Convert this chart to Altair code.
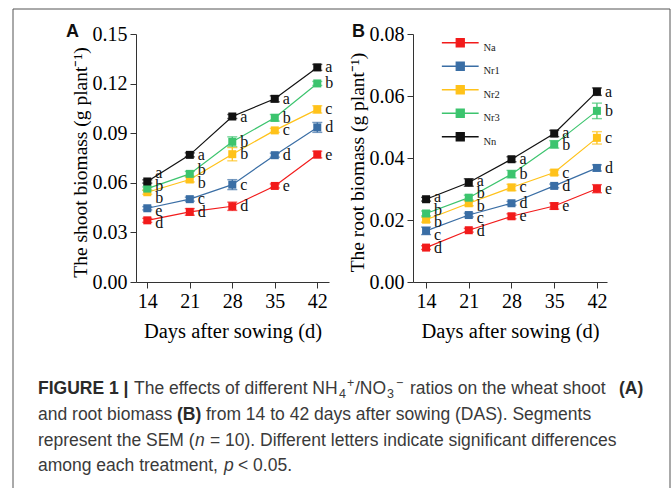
import altair as alt
import pandas as pd

# ---------------- data ----------------
days = [14, 21, 28, 35, 42]
series = ["Na", "Nr1", "Nr2", "Nr3", "Nn"]
colors = ["#F21B1B", "#3A6EA5", "#FFC21A", "#3CC46E", "#111111"]

shoot = {
    "Na":  [0.0373, 0.0424, 0.0458, 0.0581, 0.0771],
    "Nr1": [0.0446, 0.0501, 0.0589, 0.0767, 0.0935],
    "Nr2": [0.0543, 0.0620, 0.0773, 0.0917, 0.1044],
    "Nr3": [0.0565, 0.0654, 0.0848, 0.0993, 0.1201],
    "Nn":  [0.0608, 0.0769, 0.1001, 0.1108, 0.1298],
}
shoot_sem = {
    "Na":  [0.0012, 0.0020, 0.0025, 0.0012, 0.0020],
    "Nr1": [0.0010, 0.0012, 0.0030, 0.0012, 0.0030],
    "Nr2": [0.0012, 0.0015, 0.0040, 0.0012, 0.0022],
    "Nr3": [0.0010, 0.0015, 0.0030, 0.0020, 0.0012],
    "Nn":  [0.0010, 0.0012, 0.0012, 0.0018, 0.0018],
}
shoot_letters = {
    "Na":  ["d", "d", "d", "e", "e"],
    "Nr1": ["e", "c", "c", "d", "d"],
    "Nr2": ["b", "b", "b", "c", "c"],
    "Nr3": ["b", "b", "b", "b", "b"],
    "Nn":  ["a", "a", "a", "a", "a"],
}
root = {
    "Na":  [0.0111, 0.0167, 0.0212, 0.0245, 0.0301],
    "Nr1": [0.0165, 0.0216, 0.0254, 0.0310, 0.0368],
    "Nr2": [0.0201, 0.0254, 0.0305, 0.0353, 0.0465],
    "Nr3": [0.0221, 0.0272, 0.0348, 0.0444, 0.0552],
    "Nn":  [0.0267, 0.0321, 0.0396, 0.0479, 0.0614],
}
root_sem = {
    "Na":  [0.0006, 0.0006, 0.0008, 0.0010, 0.0013],
    "Nr1": [0.0012, 0.0006, 0.0006, 0.0006, 0.0010],
    "Nr2": [0.0008, 0.0008, 0.0010, 0.0008, 0.0020],
    "Nr3": [0.0008, 0.0008, 0.0012, 0.0012, 0.0025],
    "Nn":  [0.0006, 0.0012, 0.0008, 0.0010, 0.0012],
}
root_letters = {
    "Na":  ["d", "d", "e", "e", "e"],
    "Nr1": ["c", "c", "d", "d", "d"],
    "Nr2": ["b", "b", "c", "c", "c"],
    "Nr3": ["b", "b", "b", "b", "b"],
    "Nn":  ["a", "a", "a", "a", "a"],
}

SERIF = "Liberation Serif"
SANS = "Liberation Sans"


def spread(vals, sep):
    pos = list(vals)
    for _ in range(200):
        order = sorted(range(len(pos)), key=lambda i: pos[i])
        moved = False
        for a, b in zip(order, order[1:]):
            d = pos[b] - pos[a]
            if d < sep - 1e-12:
                s = (sep - d) / 2
                pos[a] -= s
                pos[b] += s
                moved = True
        if not moved:
            break
    return pos


def frame(vals, sems, letters, sep):
    rows = []
    for s in series:
        for i, d in enumerate(days):
            rows.append({"day": d, "series": s, "value": vals[s][i],
                         "lo": vals[s][i] - sems[s][i], "hi": vals[s][i] + sems[s][i],
                         "letter": letters[s][i]})
    df = pd.DataFrame(rows)
    df["lab"] = df["value"]
    for d in days:
        m = df["day"] == d
        df.loc[m, "lab"] = spread(df.loc[m, "value"].tolist(), sep)
    return df


dfA = frame(shoot, shoot_sem, shoot_letters, 0.15 / 248 * 12.5)
dfB = frame(root, root_sem, root_letters, 0.08 / 248 * 12.5)

legend_path = "M-4.6,0L4.6,0M-1,-1L1,-1L1,1L-1,1Z"


def panel(df, xdom, ymax, ystep, ytitle, show_legend):
    if show_legend:
        leg = alt.Legend(orient="none", legendX=42, legendY=3.5, title=None,
                         symbolType=legend_path, symbolSize=64, symbolStrokeWidth=1.3,
                         labelFont=SERIF, labelFontSize=10.5, labelColor="#222",
                         labelBaseline="top", labelOffset=18, rowPadding=5.5,
                         padding=0, symbolOpacity=1)
    else:
        leg = None
    cscale = alt.Scale(domain=series, range=colors)
    x = alt.X("day:Q", scale=alt.Scale(domain=xdom, nice=False, zero=False),
              axis=alt.Axis(values=days, title="Days after sowing (d)", format="d"))
    yvals = [round(i * ystep, 4) for i in range(int(round(ymax / ystep)) + 1)]
    yscale = alt.Scale(domain=[0, ymax], nice=False)
    y = alt.Y("value:Q", scale=yscale,
              axis=alt.Axis(values=yvals, format=".2f", title=ytitle, titleY=128))
    stroke = alt.Stroke("series:N", scale=cscale, sort=series, legend=leg)
    fill = alt.Fill("series:N", scale=cscale, sort=series, legend=leg)
    base = alt.Chart(df)
    line = base.mark_line(strokeWidth=1.2).encode(x=x, y=y, stroke=stroke, order="day:Q")
    err = base.mark_rule(strokeWidth=1.3).encode(
        x="day:Q", y=alt.Y("lo:Q", scale=yscale), y2="hi:Q",
        stroke=alt.Stroke("series:N", scale=cscale, legend=None))
    cap_lo = base.mark_tick(orient="horizontal", size=10, thickness=1.4).encode(
        x="day:Q", y=alt.Y("lo:Q", scale=yscale),
        color=alt.Color("series:N", scale=cscale, legend=None))
    cap_hi = base.mark_tick(orient="horizontal", size=10, thickness=1.4).encode(
        x="day:Q", y=alt.Y("hi:Q", scale=yscale),
        color=alt.Color("series:N", scale=cscale, legend=None))
    pts = base.mark_square(size=64, opacity=1).encode(
        x="day:Q", y=alt.Y("value:Q", scale=yscale), fill=fill)
    labs = base.mark_text(align="left", baseline="middle", dx=8, font=SERIF,
                          fontSize=16, color="#111").encode(
        x="day:Q", y=alt.Y("lab:Q", scale=yscale), text="letter:N")
    return [line, err, cap_lo, cap_hi, pts, labs]


one = alt.Chart(pd.DataFrame({"k": [0]}))

# Panel A plot origin sits at page (136, 34); annotation offsets below are relative to it.
OX, OY = 136, 34
bound = one.mark_rect(opacity=0).encode(
    x=alt.value(-OX), x2=alt.value(672 - OX), y=alt.value(-OY), y2=alt.value(488 - OY))
border_top = one.mark_rule(color="#555", strokeWidth=1).encode(
    x=alt.value(13 - OX), x2=alt.value(670 - OX), y=alt.value(9 - OY))
border_left = one.mark_rule(color="#555", strokeWidth=1).encode(
    x=alt.value(13 - OX), y=alt.value(9 - OY), y2=alt.value(488 - OY))
border_right = one.mark_rule(color="#555", strokeWidth=1).encode(
    x=alt.value(670 - OX), y=alt.value(9 - OY), y2=alt.value(488 - OY))

letterA = one.mark_text(text="A", font=SANS, fontSize=18, fontWeight="bold",
                        align="left", baseline="middle", color="#111").encode(
    x=alt.value(-70), y=alt.value(-2))
letterB = one.mark_text(text="B", font=SANS, fontSize=18, fontWeight="bold",
                        align="left", baseline="middle", color="#111").encode(
    x=alt.value(-61), y=alt.value(-2))

FS = 17.5
SUB = 12.5
# (text, weight, style, size, page x, page y)
cap_segments = [
    ("FIGURE 1 |", "bold", "normal", FS, 38, 389),
    ("The effects of different NH", "normal", "normal", FS, 134, 389),
    ("4", "normal", "normal", SUB, 339, 394),
    ("+", "normal", "normal", SUB, 347, 383),
    ("/NO", "normal", "normal", FS, 355, 389),
    ("3", "normal", "normal", SUB, 387, 394),
    ("\u2212", "normal", "normal", SUB, 396, 383),
    ("ratios on the wheat shoot", "normal", "normal", FS, 410, 389),
    ("(A)", "bold", "normal", FS, 619, 389),
    ("and root biomass", "normal", "normal", FS, 38, 415),
    ("(B)", "bold", "normal", FS, 177, 415),
    ("from 14 to 42 days after sowing (DAS). Segments", "normal", "normal", FS, 206, 415),
    ("represent the SEM (", "normal", "normal", FS, 38, 441),
    ("n", "normal", "italic", FS, 195, 441),
    ("= 10). Different letters indicate significant differences", "normal", "normal", FS, 210, 441),
    ("among each treatment,", "normal", "normal", FS, 38, 466),
    ("p", "normal", "italic", FS, 224, 466),
    ("< 0.05.", "normal", "normal", FS, 238, 466),
]
caption = []
for txt, wt, st, fs, px, py in cap_segments:
    caption.append(one.mark_text(text=txt, font=SANS, fontSize=fs, fontWeight=wt,
                                 fontStyle=st, align="left", baseline="middle",
                                 color="#2a2a2a" if wt == "bold" else "#3a3a3a").encode(
        x=alt.value(px - OX), y=alt.value(py - OY)))

layersA = panel(dfA, [12.14, 43.93], 0.15, 0.03, "The shoot biomass (g plant\u207b\u00b9)", False)
layersB = panel(dfB, [11.86, 43.65], 0.08, 0.02, "The root biomass (g plant\u207b\u00b9)", True)

chartA = alt.layer(bound, border_top, border_left, border_right, *layersA, letterA, *caption).properties(
    width=193, height=248)
chartB = alt.layer(*layersB, letterB).properties(width=194, height=248)

chart = alt.hconcat(chartA, chartB, spacing=84, bounds="flush").resolve_scale(
    stroke="independent", fill="independent", color="independent"
).resolve_legend(stroke="independent", fill="independent", color="independent").properties(
    padding=0, background="white"
).configure_view(stroke=None).configure_axis(
    grid=False, labelFont=SERIF, titleFont=SERIF, labelFontSize=20, titleFontSize=20.5,
    titleFontWeight="normal", labelColor="#000", titleColor="#000",
    domainColor="#333", tickColor="#333", domainWidth=1, tickWidth=1, tickSize=6,
    labelPadding=3
).configure_axisX(titlePadding=10, labelFlush=False).configure_axisY(
    titlePadding=2, titleFontSize=19.5)

chart.save("out.html", embed_options={"renderer": "svg", "actions": False})
